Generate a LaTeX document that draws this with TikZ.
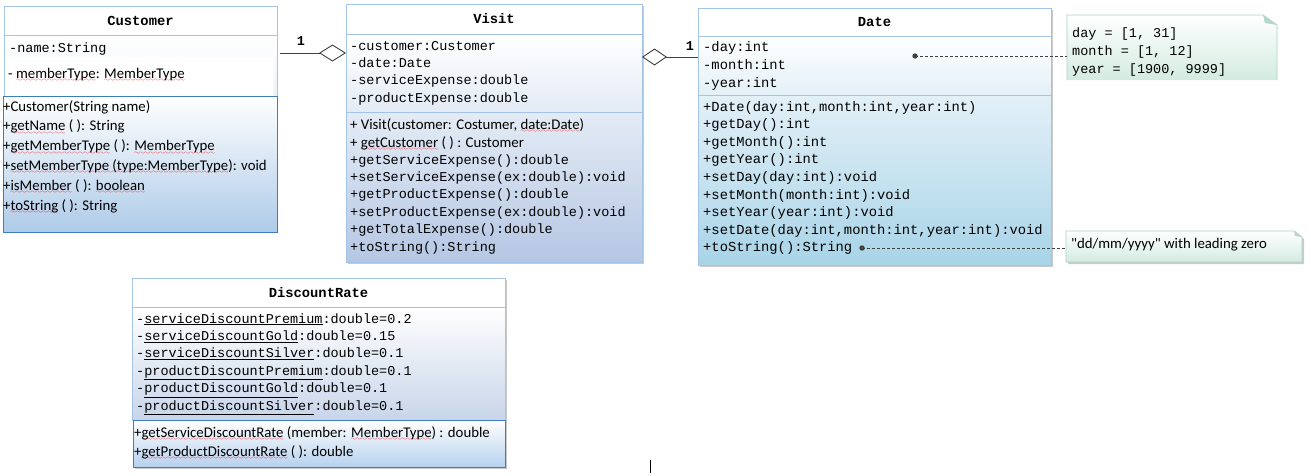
\documentclass[tikz,border=0pt]{standalone}
\usepackage{fontspec}
\setmainfont{Carlito}
\setmonofont{Liberation Mono}
\newfontfamily\straightsans{Carlito}
\usetikzlibrary{arrows.meta,calc,shadows}

% red wavy spell-check underline
\font\wavefont=lasy6
\newbox\spellbox
\newcommand\spell[1]{\setbox\spellbox\hbox{#1}%
  \rlap{\lower3.4pt\hbox to\wd\spellbox{\color{red}\xleaders\hbox{\wavefont\char58}\hfil}}%
  \box\spellbox}

\definecolor{boxline}{HTML}{A3C4E6}
\definecolor{deepline}{HTML}{3E7CC0}
\definecolor{custtop}{HTML}{EDF2F9}
\definecolor{custbot}{HTML}{AECBE8}
\definecolor{visitmid}{HTML}{E4EBF5}
\definecolor{visitbot}{HTML}{B5C7E4}
\definecolor{datemid}{HTML}{E3F0F7}
\definecolor{datebot}{HTML}{A8D4E8}
\definecolor{drbot}{HTML}{C8D5EA}
\definecolor{drmbot}{HTML}{B6D1EE}
\definecolor{notebot}{HTML}{D3EBE1}
\definecolor{noteline}{HTML}{A9D2C4}
\definecolor{noteear}{HTML}{B5D8CB}
\definecolor{linkgray}{HTML}{404040}

\begin{document}
\begin{tikzpicture}[x=1pt,y=-1pt,
  box/.style={draw=boxline, line width=0.9pt, anchor=north west, inner sep=0pt, outer sep=0pt},
  head/.style={box, fill=white, font=\ttfamily\bfseries\fontsize{13.8}{16}\selectfont},
  cast/.style={drop shadow={shadow xshift=2pt, shadow yshift=-2pt, fill=black!60, opacity=.35}},
  opsbox/.style={box, draw=deepline, top color=white, bottom color=#1},
  mono/.style={anchor=base west, inner sep=0pt, font=\ttfamily\fontsize{13.5}{#1}\selectfont},
  mono/.default=17.5,
  bigmono/.style={anchor=base west, inner sep=0pt, font=\ttfamily\fontsize{13.8}{#1}\selectfont},
  sans/.style={anchor=base west, inner sep=0pt, font=\fontsize{14.8}{#1}\selectfont},
  sans/.default=19.8,
  mult/.style={inner sep=0pt, font=\ttfamily\bfseries\fontsize{13.5}{16}\selectfont},
  agg/.style={draw=linkgray, line width=0.9pt},
  notelink/.style={draw=linkgray, line width=0.8pt, dash pattern=on 3pt off 2pt},
  notearea/.style={anchor=north west, inner sep=0pt, outer sep=0pt}
]
\useasboundingbox (0,0) rectangle (1311,475);

% ---------------- Customer ----------------
\node[head, minimum width=273pt, minimum height=29pt] (cust) at (4,6) {Customer};
\node[box, top color=white, bottom color=custtop, minimum width=273pt, minimum height=61pt] (cust-a) at (4,35) {};
\fill[white] (5,57) rectangle (273,95.5);
\node[opsbox=custbot, line width=1pt, minimum width=274pt, minimum height=136pt] (cust-m) at (3,96) {};
\node[mono] (cust-a1) at (9,52) {-name:String};
\node[sans] (cust-a2) at (8,78) {- \spell{memberType}: \spell{MemberType}};
\node[sans] (cust-ops) at (3,111) {\parbox[t]{300pt}{\raggedright
  +Customer(String name)\\
  +\spell{getName} ( ): String\\
  +\spell{getMemberType} ( ): \spell{MemberType}\\
  +\spell{setMemberType (type:MemberType}): void\\
  +\spell{isMember} ( ): \spell{boolean}\\
  +\spell{toString} ( ): String}};

% ---------------- Visit ----------------
\node[head, cast, minimum width=296pt, minimum height=30pt] (visit) at (346,4) {Visit};
\node[box, cast, top color=white, bottom color=visitmid, minimum width=296pt, minimum height=78pt] (visit-a) at (346,34) {};
\node[box, cast, top color=visitmid, bottom color=visitbot, minimum width=296pt, minimum height=150pt] (visit-m) at (346,112) {};
\node[mono=17.4] (visit-attrs) at (350,50) {\parbox[t]{300pt}{\raggedright
  -customer:Customer\\
  -date:Date\\
  -serviceExpense:double\\
  -productExpense:double}};
\node[sans=18] (visit-ops1) at (350,129) {\parbox[t]{300pt}{\raggedright
  + Visit(customer: Costumer, \spell{date:Date})\\
  + \spell{getCustomer} ( ) : Customer}};
\node[mono=17.4] (visit-ops2) at (350,164) {\parbox[t]{300pt}{\raggedright
  +getServiceExpense():double\\
  +setServiceExpense(ex:double):void\\
  +getProductExpense():double\\
  +setProductExpense(ex:double):void\\
  +getTotalExpense():double\\
  +toString():String}};

% ---------------- Date ----------------
\node[head, cast, minimum width=353pt, minimum height=28pt] (date) at (698,8) {Date};
\node[box, cast, top color=white, bottom color=datemid, minimum width=353pt, minimum height=59pt] (date-a) at (698,36) {};
\node[box, cast, top color=datemid, bottom color=datebot, minimum width=353pt, minimum height=170pt] (date-m) at (698,95) {};
\node[bigmono=18] (date-attrs) at (703,51) {\parbox[t]{300pt}{\raggedright
  -day:int\\
  -month:int\\
  -year:int}};
\node[bigmono=17.6] (date-ops) at (703,111) {\parbox[t]{400pt}{\raggedright
  +Date(day:int,month:int,year:int)\\
  +getDay():int\\
  +getMonth():int\\
  +getYear():int\\
  +setDay(day:int):void\\
  +setMonth(month:int):void\\
  +setYear(year:int):void\\
  +setDate(day:int,month:int,year:int):void\\
  +toString():String}};

% ---------------- DiscountRate ----------------
\node[head, cast, minimum width=373pt, minimum height=29pt] (dr) at (132,278) {DiscountRate};
\node[box, cast, top color=white, bottom color=drbot, minimum width=373pt, minimum height=113pt] (dr-a) at (132,307) {};
\node[opsbox=drmbot, cast, line width=1pt, minimum width=372pt, minimum height=47pt] (dr-m) at (133,420) {};
\node[mono=17.4] (dr-attrs) at (136,323) {\parbox[t]{400pt}{\raggedright
  -\underline{serviceDiscountPremium}:double=0.2\\
  -\underline{serviceDiscountGold}:double=0.15\\
  -\underline{serviceDiscountSilver}:double=0.1\\
  -\underline{productDiscountPremium}:double=0.1\\
  -\underline{productDiscountGold}:double=0.1\\
  -\underline{productDiscountSilver}:double=0.1}};
\node[sans=19] (dr-ops) at (134,437) {\parbox[t]{400pt}{\raggedright
  +\spell{getServiceDiscountRate} (member: \spell{MemberType}) : double\\
  +\spell{getProductDiscountRate} ( ): double}};

% ---------------- associations ----------------
\coordinate (cv) at (0,53);
\coordinate (vd) at (0,57);
\draw[agg, shorten <=3pt, -{Diamond[open, fill=white, length=27pt, width=17pt]}]
  (cust.east |- cv) -- (visit.west |- cv);
\draw[agg, {Diamond[open, fill=white, length=25pt, width=17pt]}-]
  (visit.east |- vd) -- (date.west |- vd);
\node[mult] (m-cust) at (301,41) {1};
\node[mult] (m-date) at (690,46) {1};

% ---------------- notes ----------------
\node[notearea, minimum width=210pt, minimum height=65pt] (note1) at (1067,15) {};
\shade[top color=white, bottom color=notebot]
  (note1.north west) -- ($(note1.north east)+(-14,0)$) -- ($(note1.north east)+(0,10)$)
  -- (note1.south east) -- (note1.south west) -- cycle;
\draw[noteline, line width=0.9pt]
  (note1.south west) -- (note1.north west) -- ($(note1.north east)+(-14,0)$)
  -- ($(note1.north east)+(0,10)$) -- (note1.south east);
\fill[noteear] ($(note1.north east)+(-14,0)$) -- ($(note1.north east)+(0,10)$) -- ($(note1.north east)+(-12,8)$) -- cycle;
\node[mono=18] (note1-text) at (1072,37) {\parbox[t]{200pt}{\raggedright
  day = [1, 31]\\
  month = [1, 12]\\
  year = [1900, 9999]}};

\node[notearea, minimum width=236pt, minimum height=31pt] (note2) at (1066,231) {};
\shade[top color=white, bottom color=notebot, cast]
  (note2.north west) -- ($(note2.north east)+(-8,0)$) -- ($(note2.north east)+(0,6)$)
  -- (note2.south east) -- (note2.south west) -- cycle;
\draw[noteline, line width=0.9pt]
  (note2.north west) -- ($(note2.north east)+(-8,0)$) -- ($(note2.north east)+(0,6)$)
  -- (note2.south east) -- (note2.south west) -- cycle;
\fill[noteear] ($(note2.north east)+(-8,0)$) -- ($(note2.north east)+(0,6)$) -- ($(note2.north east)+(-7,5)$) -- cycle;
\node[sans] (note2-text) at (1071,248) {\straightsans "dd/mm/yyyy" with leading zero};

% note anchors and dashed links
\coordinate (dot1) at (915,56);
\coordinate (dot2) at (862,248);
\fill[linkgray] (dot1) circle (2.7);
\fill[linkgray] (dot2) circle (2.7);
\draw[notelink] (dot1) -- (note1.west |- dot1);
\draw[notelink] (dot2) -- (note2.west |- dot2);

% stray mark near the lower edge
\coordinate (tick-a) at (650,460);
\coordinate (tick-b) at (650,473);
\draw[black, line width=1pt] (tick-a) -- (tick-b);
\end{tikzpicture}
\end{document}
